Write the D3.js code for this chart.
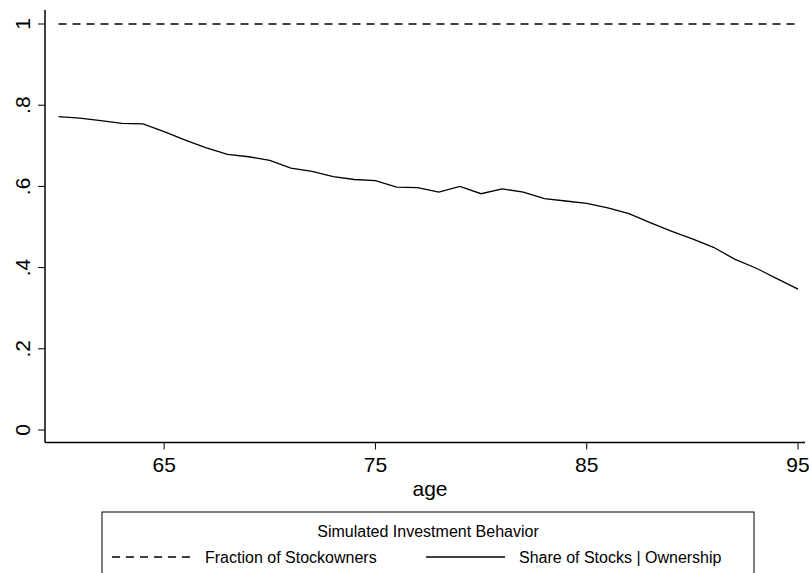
<!DOCTYPE html>
<html><head><meta charset="utf-8">
<script src="https://cdn.jsdelivr.net/npm/d3@7"></script>
<style>body{margin:0;background:#fff}svg{font-family:"Liberation Sans",Arial,sans-serif}</style>
</head><body><div id="chart"></div>
<script>
const ages = d3.range(60, 96);
const owners = ages.map(() => 1);
const share = [.772,.768,.762,.755,.754,.735,.714,.695,.679,.673,.664,.645,.637,.624,.617,.614,.598,.597,.586,.600,.582,.594,.586,.570,.564,.558,.547,.533,.511,.490,.471,.450,.421,.399,.373,.347];
const xTicks = [65, 75, 85, 95];
const yTicks = [0, .2, .4, .6, .8, 1];
const yLabels = ["0", ".2", ".4", ".6", ".8", "1"];

const width = 809, height = 573;
const svg = d3.select("#chart").append("svg").attr("width", width).attr("height", height);
const x = d3.scaleLinear().domain([60, 95]).range([58.5, 798]);
const y = d3.scaleLinear().domain([0, 1]).range([430, 24]);
const axisY = 442.5, axisX = 45;

svg.append("line").attr("x1", axisX).attr("x2", 805).attr("y1", axisY).attr("y2", axisY).attr("stroke", "#000").attr("stroke-width", 1.5);
svg.append("line").attr("x1", axisX).attr("x2", axisX).attr("y1", 10).attr("y2", axisY).attr("stroke", "#000").attr("stroke-width", 1.5);

xTicks.forEach(t => {
  svg.append("line").attr("x1", x(t)).attr("x2", x(t)).attr("y1", axisY).attr("y2", axisY + 7).attr("stroke", "#000");
  svg.append("text").attr("x", x(t)).attr("y", 472).attr("text-anchor", "middle").attr("font-size", 21).text(t);
});
yTicks.forEach((t, i) => {
  svg.append("line").attr("x1", axisX - 7).attr("x2", axisX).attr("y1", y(t)).attr("y2", y(t)).attr("stroke", "#000");
  svg.append("text").attr("transform", `translate(30,${y(t)}) rotate(-90)`).attr("text-anchor", "middle").attr("font-size", 21).text(yLabels[i]);
});
svg.append("text").attr("x", 430).attr("y", 496).attr("text-anchor", "middle").attr("font-size", 21).text("age");

const line = d3.line().x((d, i) => x(ages[i])).y(d => y(d));
svg.append("path").attr("d", line(owners)).attr("fill", "none").attr("stroke", "#000").attr("stroke-width", 1.3).attr("stroke-dasharray", "8,6");
svg.append("path").attr("d", line(share)).attr("fill", "none").attr("stroke", "#000").attr("stroke-width", 1.3);

// legend
svg.append("rect").attr("x", 102).attr("y", 512).attr("width", 652).attr("height", 70).attr("fill", "none").attr("stroke", "#000");
svg.append("text").attr("x", 428).attr("y", 537).attr("text-anchor", "middle").attr("font-size", 16).text("Simulated Investment Behavior");
svg.append("line").attr("x1", 112).attr("x2", 193).attr("y1", 557).attr("y2", 557).attr("stroke", "#000").attr("stroke-width", 1.3).attr("stroke-dasharray", "8,6");
svg.append("text").attr("x", 205).attr("y", 563).attr("font-size", 16).text("Fraction of Stockowners");
svg.append("line").attr("x1", 426).attr("x2", 505).attr("y1", 557).attr("y2", 557).attr("stroke", "#000").attr("stroke-width", 1.3);
svg.append("text").attr("x", 519).attr("y", 563).attr("font-size", 16).text("Share of Stocks | Ownership");
</script></body></html>
